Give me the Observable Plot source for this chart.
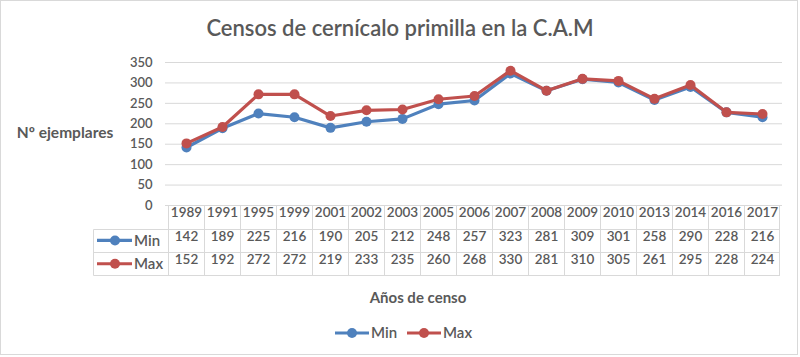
<!DOCTYPE html>
<html>
<head>
<meta charset="utf-8">
<script src="https://cdn.jsdelivr.net/npm/d3@7"></script>
<script src="https://cdn.jsdelivr.net/npm/@observablehq/plot@0.6"></script>
<style>
  html, body { margin: 0; padding: 0; background: #fff; }
  #wrap { position: relative; width: 800px; height: 357px; overflow: hidden; font-family: Lato, "DejaVu Sans", sans-serif; }
  #frame { position: absolute; left: 0; top: 0; width: 798px; height: 355px; box-sizing: border-box; border: 1px solid #D9D9D9; }
  #title { position: absolute; left: 0; top: 14px; width: 800px; text-align: center; font-size: 22px; font-weight: 600; color: #595959; line-height: 28px; }
  #chart { position: absolute; left: 0; top: 0; }
</style>
</head>
<body>
<div id="wrap">
  <div id="frame"></div>
  <div id="chart"></div>
  <div id="title">Censos de cernícalo primilla en la C.A.M</div>
</div>
<script>
const years = ["1989","1991","1995","1999","2001","2002","2003","2005","2006","2007","2008","2009","2010","2013","2014","2016","2017"];
const minVals = [142,189,225,216,190,205,212,248,257,323,281,309,301,258,290,228,216];
const maxVals = [152,192,272,272,219,233,235,260,268,330,281,310,305,261,295,228,224];
const seriesNames = ["Min","Max"];
const seriesColors = ["#4F81BD","#C0504D"];
const yTicks = [0,50,100,150,200,250,300,350];
const yTitle = "Nº ejemplares";
const xTitle = "Años de censo";

const minData = years.map((y,i) => ({year: y, series: "Min", value: minVals[i]}));
const maxData = years.map((y,i) => ({year: y, series: "Max", value: maxVals[i]}));

const textColor = "#595959";
const gridColor = "#D9D9D9";

const plot = Plot.plot({
  width: 800,
  height: 357,
  marginTop: 62,
  marginLeft: 165,
  marginRight: 18,
  marginBottom: 152,
  style: {fontFamily: "Lato, 'DejaVu Sans', sans-serif", fontSize: "13px", color: textColor, background: "transparent", overflow: "visible"},
  x: {type: "point", domain: years, padding: 0.5, axis: null},
  y: {domain: [0, 350], axis: null},
  color: {domain: seriesNames, range: seriesColors},
  marks: [
    Plot.gridY(yTicks, {stroke: gridColor, strokeOpacity: 1, strokeWidth: 1}),
    Plot.axisY(yTicks, {tickSize: 0, tickPadding: 13, label: null, fill: textColor, fontWeight: 600, fontSize: 13}),
    Plot.line(minData, {x: "year", y: "value", stroke: seriesColors[0], strokeWidth: 3.2}),
    Plot.dot(minData, {x: "year", y: "value", fill: seriesColors[0], r: 5}),
    Plot.line(maxData, {x: "year", y: "value", stroke: seriesColors[1], strokeWidth: 3.2}),
    Plot.dot(maxData, {x: "year", y: "value", fill: seriesColors[1], r: 5}),
    Plot.text(years, {x: d => d, text: d => d, frameAnchor: "bottom", dy: 11, fill: textColor, fontWeight: 600, fontSize: 13.5}),
    Plot.text(minData, {x: "year", text: "value", frameAnchor: "bottom", dy: 35, fill: textColor, fontWeight: 600, fontSize: 13.5}),
    Plot.text(maxData, {x: "year", text: "value", frameAnchor: "bottom", dy: 58, fill: textColor, fontWeight: 600, fontSize: 13.5})
  ]
});
document.getElementById("chart").appendChild(plot);

// Data table grid, row legend keys, axis titles, legend
const svg = d3.select(plot);
const sx = plot.scale("x");
const sy = plot.scale("y");
const c0 = sx.apply(years[0]);
const step = sx.apply(years[1]) - c0;
const tblLeft = c0 - step / 2;
const tblRight = sx.apply(years[years.length - 1]) + step / 2;
const tblTop = Math.round(sy.apply(0)) + 0.5;
const rowH = 23.3;
const keyLeft = 93.5;
const g = svg.append("g").attr("stroke", gridColor).attr("stroke-width", 1).attr("fill", "none");
g.append("line").attr("x1", tblLeft).attr("x2", tblRight).attr("y1", tblTop).attr("y2", tblTop);
for (let r = 1; r <= 3; r++) {
  const yy = Math.round(tblTop + r * rowH) + 0.5;
  g.append("line").attr("x1", keyLeft).attr("x2", tblRight).attr("y1", yy).attr("y2", yy);
}
const tblBottom = Math.round(tblTop + 3 * rowH) + 0.5;
years.forEach((y, i) => {
  const xx = Math.round(tblLeft + i * step) + 0.5;
  g.append("line").attr("x1", xx).attr("x2", xx).attr("y1", tblTop).attr("y2", tblBottom);
});
g.append("line").attr("x1", Math.round(tblRight) - 0.5).attr("x2", Math.round(tblRight) - 0.5).attr("y1", tblTop).attr("y2", tblBottom);
g.append("line").attr("x1", keyLeft).attr("x2", keyLeft).attr("y1", Math.round(tblTop + rowH) + 0.5).attr("y2", tblBottom);

seriesNames.forEach((name, i) => {
  const cy = tblTop + (i + 1.5) * rowH;
  svg.append("line").attr("x1", 97).attr("x2", 132).attr("y1", cy).attr("y2", cy)
    .attr("stroke", seriesColors[i]).attr("stroke-width", 3.2);
  svg.append("circle").attr("cx", 115).attr("cy", cy).attr("r", 5).attr("fill", seriesColors[i]);
  svg.append("text").attr("x", 134).attr("y", cy).attr("dy", "0.35em").attr("text-anchor", "start")
    .attr("fill", textColor).attr("font-size", 15).attr("font-weight", 600).text(name);
});

svg.append("text").attr("x", 65).attr("y", 133).attr("dy", "0.35em").attr("text-anchor", "middle")
  .attr("fill", textColor).attr("font-size", 15.5).attr("font-weight", 700).text(yTitle);
svg.append("text").attr("x", 418).attr("y", 298).attr("dy", "0.35em").attr("text-anchor", "middle")
  .attr("fill", textColor).attr("font-size", 15).attr("font-weight", 700).text(xTitle);

const legendX = [335, 407];
seriesNames.forEach((name, i) => {
  const x0 = legendX[i];
  const cy = 333;
  svg.append("line").attr("x1", x0).attr("x2", x0 + 34).attr("y1", cy).attr("y2", cy)
    .attr("stroke", seriesColors[i]).attr("stroke-width", 3.2);
  svg.append("circle").attr("cx", x0 + 17).attr("cy", cy).attr("r", 5).attr("fill", seriesColors[i]);
  svg.append("text").attr("x", x0 + 36).attr("y", cy).attr("dy", "0.35em").attr("text-anchor", "start")
    .attr("fill", textColor).attr("font-size", 15).attr("font-weight", 600).text(name);
});
</script>
</body>
</html>
